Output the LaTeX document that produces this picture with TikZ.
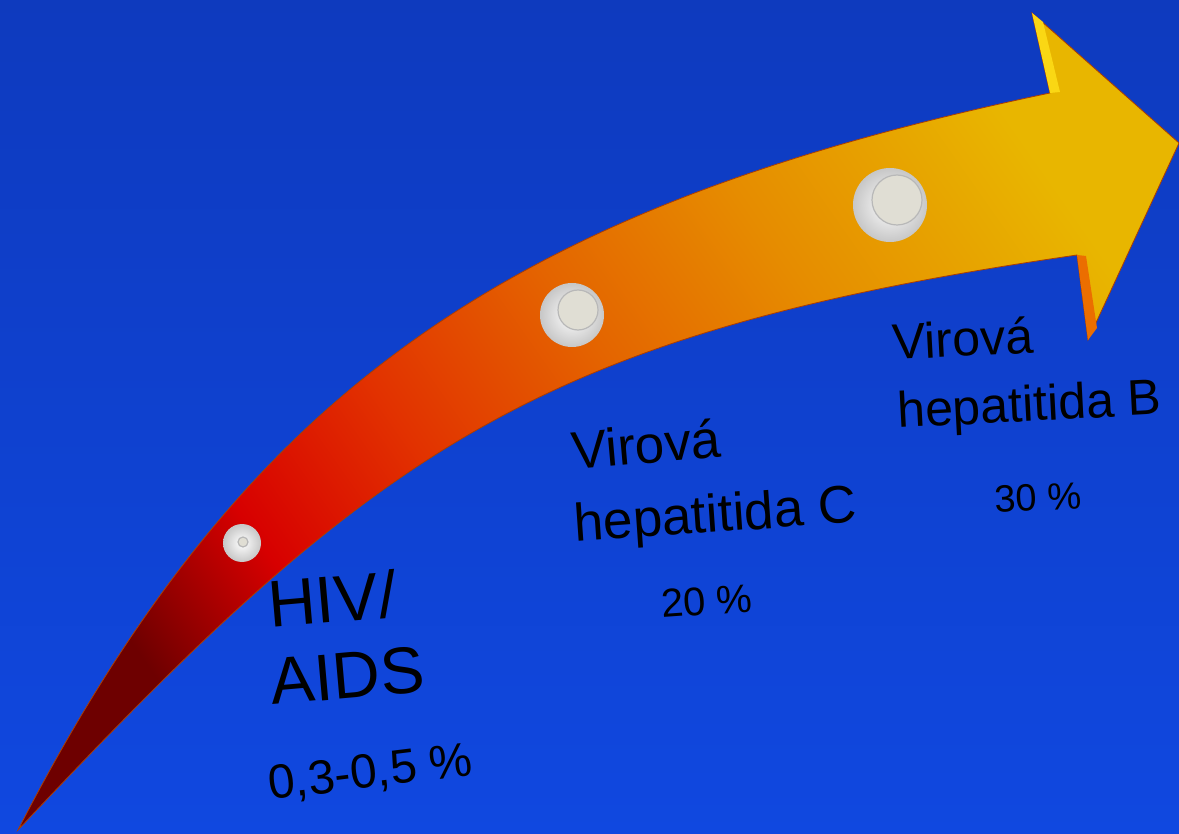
\documentclass[tikz,border=0pt]{standalone}
\usepackage{fontspec}
\setmainfont{Liberation Sans}
\definecolor{bgtop}{RGB}{14,58,190}
\definecolor{bgbot}{RGB}{16,72,224}
\definecolor{ar0}{RGB}{110,0,0}
\definecolor{ar1}{RGB}{215,0,0}
\definecolor{ar2}{RGB}{226,50,0}
\definecolor{ar3}{RGB}{228,100,0}
\definecolor{ar4}{RGB}{230,140,0}
\definecolor{ar5}{RGB}{232,182,0}
\definecolor{btnface}{RGB}{224,222,212}
\definecolor{bevelhi}{RGB}{250,215,20}
\definecolor{bevello}{RGB}{235,110,0}
\pgfdeclarehorizontalshading{arrowshade}{100bp}{color(0bp)=(ar0); color(25bp)=(ar0); color(33bp)=(ar1); color(42bp)=(ar2); color(52bp)=(ar3); color(62bp)=(ar4); color(75bp)=(ar5); color(100bp)=(ar5)}
\tikzset{
  btnout/.style={circle, inner sep=0pt, inner color=white, outer color=black!22},
  btnin/.style={circle, inner sep=0pt, fill=btnface, draw=black!28, line width=0.6pt},
  lbl/.style={anchor=base west, inner sep=0pt, text=black},
}
\begin{document}
\begin{tikzpicture}[x=0.5pt,y=-0.5pt]
\useasboundingbox (0,0) rectangle (1179,834);
\shade[top color=bgtop, bottom color=bgbot] (0,0) rectangle (1179,834);
% arrow
\shade[shading=arrowshade, shading angle=35, draw=black!40!orange!80!red, line width=0.4pt]
  (18,830) .. controls (247,385) and (512,206) .. (1050,93)
  -- (1032,13) -- (1179,143) -- (1088,340) -- (1077,255)
  .. controls (532,334) and (374,451) .. (18,830)
  -- cycle;
% head bevels
\fill[bevelhi] (1032,13) -- (1043,22) -- (1060,92) -- (1050,93) -- cycle;
\fill[bevello] (1077,255) -- (1086,256) -- (1097,328) -- (1088,340) -- cycle;
% buttons
\node[btnout, minimum size=19pt] (b1) at (242,543) {};
\node[btnin, minimum size=5pt] (b1i) at (243,542) {};
\node[btnout, minimum size=32pt] (b2) at (572,315) {};
\node[btnin, minimum size=20pt] (b2i) at (578,310) {};
\node[btnout, minimum size=37pt] (b3) at (890,205) {};
\node[btnin, minimum size=25pt] (b3i) at (897,200) {};
% labels
\node[lbl, rotate=5, font=\fontsize{33}{38}\selectfont] (hiv) at (270,628) {HIV/};
\node[lbl, rotate=5, font=\fontsize{33}{38}\selectfont] (aids) at (272,705) {AIDS};
\node[lbl, rotate=7, font=\fontsize{24}{28}\selectfont] (p1) at (270,800) {0,3-0,5 \%};
\node[lbl, rotate=5, font=\fontsize{26.5}{30}\selectfont] (vc) at (573,470) {Virová};
\node[lbl, rotate=4, font=\fontsize{26.5}{30}\selectfont] (hc) at (575,542) {hepatitida C};
\node[lbl, rotate=4, font=\fontsize{20}{24}\selectfont] (p2) at (662,618) {20 \%};
\node[lbl, rotate=3, font=\fontsize{25}{30}\selectfont] (vb) at (893,360) {Virová};
\node[lbl, rotate=3, font=\fontsize{25}{30}\selectfont] (hb) at (898,428) {hepatitida B};
\node[lbl, rotate=3, font=\fontsize{19}{23}\selectfont] (p3) at (995,513) {30 \%};
\end{tikzpicture}
\end{document}
